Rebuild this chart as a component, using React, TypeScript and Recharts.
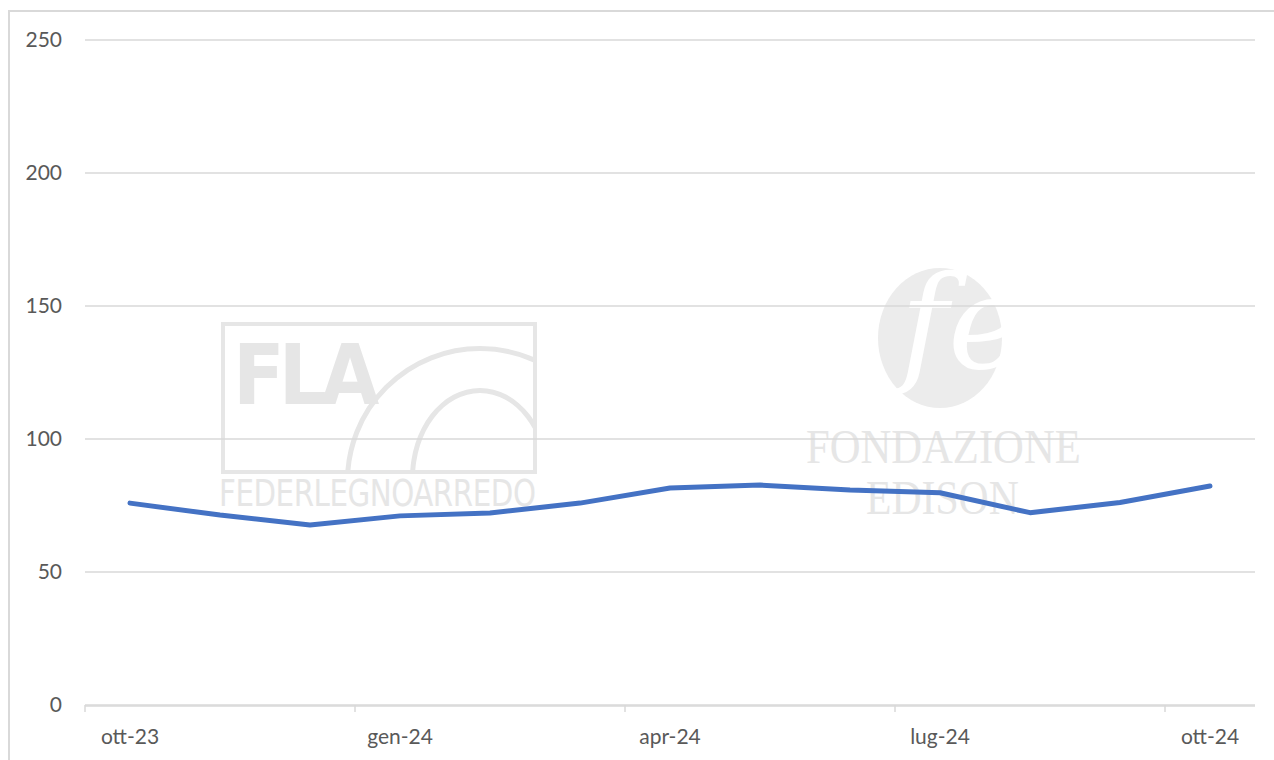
import React from "react";
import { LineChart, Line, XAxis, YAxis, CartesianGrid } from "recharts";

const months = [
  "ott-23", "nov-23", "dic-23", "gen-24", "feb-24", "mar-24", "apr-24",
  "mag-24", "giu-24", "lug-24", "ago-24", "set-24", "ott-24",
];
const values = [75.9, 71.4, 67.7, 71.1, 72.2, 75.9, 81.6, 82.7, 80.8, 79.8, 72.3, 76.1, 82.3];
const yTicks = [0, 50, 100, 150, 200, 250];
const labelTicks = [0, 3, 6, 9, 12];
const markTicks = [-0.5, 2.5, 5.5, 8.5, 11.5];

const FONT = "Lato, 'Open Sans', sans-serif";
const GRID = "#d9d9d9";
const TEXT = "#595959";
const WM = "#e6e6e6";

export default function App() {
  const data = months.map((m, i) => ({ i, month: m, value: values[i] }));

  return (
    <div
      style={{
        position: "absolute",
        left: 0,
        top: 0,
        width: 1274,
        height: 760,
        overflow: "hidden",
        background: "#fff",
        fontFamily: FONT,
      }}
    >
      {/* outer frame, runs off the right and bottom edge */}
      <div
        style={{
          position: "absolute",
          left: 8,
          top: 10,
          width: 1300,
          height: 800,
          border: `2px solid ${GRID}`,
        }}
      />

      {/* watermark: FLA */}
      <div
        style={{
          position: "absolute",
          left: 221,
          top: 322,
          width: 308,
          height: 144,
          border: `4px solid ${WM}`,
          overflow: "hidden",
        }}
      >
        <div
          style={{
            position: "absolute",
            left: 8,
            top: 0,
            fontFamily: "'DejaVu Sans Condensed', sans-serif",
            fontWeight: 900,
            fontSize: 84,
            letterSpacing: -6,
            color: WM,
          }}
        >
          FLA
        </div>
        <div
          style={{
            position: "absolute",
            left: 120,
            top: 20,
            width: 260,
            height: 260,
            borderRadius: "50%",
            border: `5px solid ${WM}`,
          }}
        />
        <div
          style={{
            position: "absolute",
            left: 185,
            top: 62,
            width: 130,
            height: 170,
            borderRadius: "50%",
            border: `5px solid ${WM}`,
          }}
        />
      </div>
      <div
        style={{
          position: "absolute",
          left: 219,
          top: 472,
          fontFamily: "'DejaVu Sans Condensed', sans-serif",
          fontSize: 37,
          color: WM,
          letterSpacing: -0.5,
          transform: "scaleX(0.88)",
          transformOrigin: "left",
          whiteSpace: "nowrap",
        }}
      >
        FEDERLEGNOARREDO
      </div>

      {/* watermark: Fondazione Edison */}
      <div
        style={{
          position: "absolute",
          left: 878,
          top: 268,
          width: 124,
          height: 140,
          borderRadius: "50%",
          background: "#ececec",
        }}
      />
      <div
        style={{
          position: "absolute",
          left: 900,
          top: 258,
          fontFamily: "'DejaVu Serif', serif",
          fontStyle: "italic",
          fontSize: 130,
          color: "#fff",
          lineHeight: 1,
        }}
      >
        fe
      </div>
      <div
        style={{
          position: "absolute",
          left: 806,
          top: 418,
          fontFamily: "'Liberation Serif', serif",
          fontSize: 49,
          color: WM,
          transform: "scaleX(0.87)",
          transformOrigin: "left",
          whiteSpace: "nowrap",
        }}
      >
        FONDAZIONE
      </div>
      <div
        style={{
          position: "absolute",
          left: 866,
          top: 469,
          fontFamily: "'Liberation Serif', serif",
          fontSize: 49,
          color: WM,
          transform: "scaleX(0.85)",
          transformOrigin: "left",
          whiteSpace: "nowrap",
        }}
      >
        EDISON
      </div>

      <div style={{ position: "absolute", left: 0, top: 0 }}>
        <LineChart
          width={1274}
          height={760}
          data={data}
          margin={{ top: 40, right: 19, bottom: 10, left: 25 }}
        >
          <CartesianGrid
            xAxisId="b"
            vertical={false}
            stroke={GRID}
            strokeWidth={1.5}
          />
          <XAxis
            xAxisId="a"
            type="number"
            dataKey="i"
            domain={[-0.5, 12.5]}
            ticks={markTicks}
            tickFormatter={() => ""}
            tickSize={7}
            tickLine={{ stroke: GRID, strokeWidth: 1.5 }}
            axisLine={false}
            height={1}
          />
          <XAxis
            xAxisId="b"
            type="number"
            dataKey="i"
            domain={[-0.5, 12.5]}
            ticks={labelTicks}
            tickFormatter={(v: number) => months[v]}
            tickLine={false}
            tickSize={0}
            tickMargin={23}
            axisLine={{ stroke: GRID, strokeWidth: 1.5 }}
            tick={{ fill: TEXT, fontSize: 21, fontFamily: FONT }}
            height={44}
          />
          <YAxis
            domain={[0, 250]}
            ticks={yTicks}
            width={60}
            tickLine={false}
            tickSize={0}
            tickMargin={23}
            axisLine={false}
            tick={{ fill: TEXT, fontSize: 21, fontFamily: FONT }}
          />
          <Line
            xAxisId="b"
            type="linear"
            dataKey="value"
            stroke="#4472c4"
            strokeWidth={5}
            strokeLinecap="round"
            strokeLinejoin="round"
            dot={false}
            isAnimationActive={false}
          />
        </LineChart>
      </div>
    </div>
  );
}
